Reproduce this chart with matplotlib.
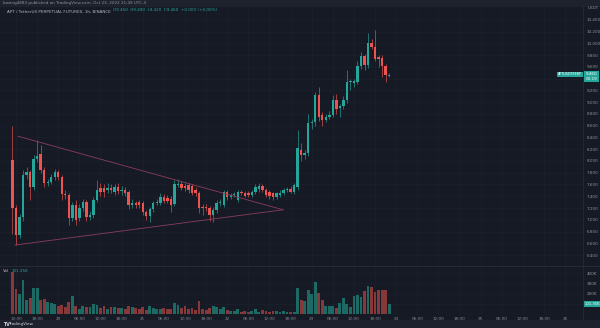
import matplotlib
matplotlib.use("Agg")
import matplotlib.pyplot as plt
import numpy as np

# ---------------- data: APT/USDT hourly candles ----------------
opens = [8.02, 7.20, 6.74, 7.05, 7.76, 7.81, 7.56, 8.03, 8.12, 7.85,
         7.63, 7.64, 7.73, 7.81, 7.73, 7.44, 7.42, 7.03, 7.25, 7.03,
         7.20, 7.30, 7.05, 7.08, 7.34, 7.54, 7.54, 7.51, 7.54, 7.47,
         7.56, 7.49, 7.51, 7.47, 7.25, 7.29, 7.30, 7.29, 7.13, 7.06,
         7.18, 7.29, 7.29, 7.39, 7.37, 7.35, 7.27, 7.59, 7.61, 7.57,
         7.59, 7.57, 7.51, 7.46, 7.22, 7.22, 7.20, 7.08, 7.17, 7.29,
         7.25, 7.47, 7.39, 7.42, 7.34, 7.47, 7.46, 7.45, 7.42, 7.47,
         7.52, 7.57, 7.51, 7.47, 7.45, 7.39, 7.42, 7.46, 7.51, 7.52,
         7.48, 7.56, 8.19, 8.10, 8.13, 8.64, 8.66, 9.12, 8.78, 8.70,
         8.75, 8.78, 9.04, 8.90, 8.93, 9.04, 9.34, 9.33, 9.34, 9.61,
         9.78, 9.63, 10.01, 9.94, 9.76, 9.75, 9.61, 9.45]
highs = [8.59, 7.25, 7.10, 7.85, 7.90, 7.85, 8.10, 8.36, 8.27, 7.90,
         7.70, 7.78, 7.86, 7.84, 7.76, 7.50, 7.45, 7.30, 7.33, 7.26,
         7.36, 7.34, 7.15, 7.38, 7.68, 7.62, 7.60, 7.62, 7.60, 7.60,
         7.62, 7.57, 7.56, 7.50, 7.35, 7.32, 7.34, 7.32, 7.16, 7.22,
         7.32, 7.36, 7.45, 7.44, 7.42, 7.40, 7.68, 7.70, 7.66, 7.62,
         7.63, 7.60, 7.56, 7.49, 7.27, 7.26, 7.24, 7.21, 7.33, 7.35,
         7.51, 7.51, 7.46, 7.48, 7.51, 7.50, 7.49, 7.49, 7.50, 7.60,
         7.62, 7.61, 7.54, 7.50, 7.48, 7.48, 7.50, 7.54, 7.56, 7.57,
         7.62, 8.53, 8.30, 8.18, 8.80, 8.72, 9.17, 9.26, 8.83, 8.80,
         8.85, 9.12, 9.14, 8.97, 9.10, 9.55, 9.40, 9.40, 9.70, 9.85,
         9.82, 10.18, 10.08, 10.23, 9.80, 9.80, 9.64, 9.49]
lows = [6.76, 6.57, 6.69, 6.98, 7.70, 7.34, 7.50, 7.98, 7.80, 7.55,
        7.58, 7.60, 7.68, 7.68, 7.34, 7.36, 6.91, 6.98, 6.91, 6.98,
        7.15, 6.98, 7.00, 7.03, 7.30, 7.40, 7.38, 7.45, 7.45, 7.42,
        7.44, 7.42, 7.40, 7.18, 7.20, 7.20, 7.20, 7.08, 7.00, 6.96,
        7.14, 7.25, 7.25, 7.28, 7.28, 7.14, 7.24, 7.55, 7.50, 7.49,
        7.46, 7.42, 7.40, 7.12, 7.08, 7.15, 6.98, 6.96, 7.12, 7.24,
        7.21, 7.34, 7.35, 7.38, 7.30, 7.42, 7.38, 7.39, 7.38, 7.43,
        7.48, 7.48, 7.39, 7.36, 7.34, 7.35, 7.38, 7.42, 7.47, 7.46,
        7.44, 7.50, 8.00, 8.03, 8.08, 8.55, 8.60, 8.68, 8.60, 8.66,
        8.72, 8.74, 8.80, 8.75, 8.88, 8.98, 9.21, 9.25, 9.30, 9.56,
        9.55, 9.58, 9.90, 9.70, 9.60, 9.43, 9.34, 9.42]
closes = [7.20, 6.74, 7.05, 7.76, 7.81, 7.56, 8.03, 8.08, 7.85, 7.63,
          7.64, 7.73, 7.81, 7.73, 7.44, 7.42, 7.03, 7.25, 7.00, 7.20,
          7.30, 7.05, 7.08, 7.34, 7.51, 7.47, 7.47, 7.54, 7.51, 7.56,
          7.49, 7.51, 7.46, 7.25, 7.29, 7.25, 7.25, 7.13, 7.06, 7.18,
          7.29, 7.30, 7.39, 7.32, 7.32, 7.25, 7.61, 7.61, 7.54, 7.54,
          7.51, 7.46, 7.46, 7.20, 7.20, 7.20, 7.08, 7.17, 7.29, 7.30,
          7.47, 7.39, 7.42, 7.44, 7.47, 7.46, 7.40, 7.42, 7.47, 7.56,
          7.57, 7.51, 7.42, 7.40, 7.39, 7.45, 7.46, 7.51, 7.52, 7.48,
          7.59, 8.22, 8.10, 8.13, 8.64, 8.66, 9.12, 8.75, 8.70, 8.75,
          8.78, 9.04, 8.88, 8.93, 9.04, 9.34, 9.36, 9.36, 9.61, 9.78,
          9.63, 10.01, 9.94, 9.73, 9.73, 9.61, 9.46, 9.46]
volumes_k = [410, 250, 200, 330, 140, 155, 260, 260, 140, 150,
             115, 110, 100, 80, 90, 70, 120, 175, 85, 55,
             80, 70, 70, 100, 90, 65, 80, 55, 70, 75,
             60, 65, 55, 85, 70, 60, 55, 75, 45, 80,
             60, 55, 50, 65, 55, 50, 110, 90, 60, 80,
             55, 60, 45, 130, 55, 40, 60, 85, 75, 50,
             70, 45, 35, 35, 55, 25, 30, 25, 30, 50,
             25, 40, 30, 25, 30, 30, 25, 30, 20, 25,
             20, 260, 140, 130, 240, 200, 310, 210, 140, 80,
             80, 80, 60, 110, 160, 100, 70, 180, 190, 170,
             230, 275, 265, 220, 240, 240, 240, 101.35]

price_ticks = [6.4, 6.6, 6.8, 7.0, 7.2, 7.4, 7.6, 7.8, 8.0, 8.2, 8.4,
               8.6, 8.8, 9.0, 9.2, 9.4, 9.6, 9.8, 10.0, 10.2, 10.4]
volume_ticks_k = [100, 200, 300, 400]
time_labels = ["12:00", "18:00", "20", "06:00", "12:00", "18:00", "21",
               "06:00", "12:00", "18:00", "22", "06:00", "12:00", "18:00",
               "23", "06:00", "12:00", "18:00", "24", "06:00", "12:00",
               "18:00", "25", "06:00", "12:00", "18:00", "26"]
first_label_bar = 1
bars_per_label = 6

# symmetrical triangle drawn on the chart: (bar index, price)
tri_upper = [(1.56, 8.42), (76.85, 7.17)]
tri_lower = [(0.71, 6.57), (76.85, 7.17)]

symbol = "APT / TetherUS PERPETUAL FUTURES, 1h, BINANCE"
published = "bwang4883 published on TradingView.com, Oct 23, 2022 21:49 UTC-4"

# ---------------- styling ----------------
W, H = 600, 328
BG = "#161a25"
STRIP = "#1e222d"
GRID = "#1d212e"
SEP = "#2a2e39"
TXT = "#8f929b"
UP = "#26a69a"
DOWN = "#ef5350"
VOL_UP = "#1d6963"
VOL_DOWN = "#873839"
TRI = "#8a3d5c"
FS = 3.0
plt.rcParams["font.family"] = ["DejaVu Sans"]


def rect(x0, y0, x1, y1):
    return [x0 / W, 1 - y1 / H, (x1 - x0) / W, (y1 - y0) / H]


fig = plt.figure(figsize=(W / 100, H / 100), dpi=100, facecolor=BG)

n = len(closes)
idx = np.arange(n)
o = np.array(opens)
c = np.array(closes)
hi = np.array(highs)
lo = np.array(lows)
vol = np.array(volumes_k)
rising = c >= o
last = n - 1

xlim = (-3.55, 162.07)
tick_pos = [first_label_bar + bars_per_label * m for m in range(len(time_labels))]

# ---------------- price pane ----------------
ax = fig.add_axes(rect(0, 6, 583, 265))
ax.set_facecolor(BG)
ax.set_xlim(*xlim)
ax.set_ylim(6.231, 10.634)
ax.set_yticks(price_ticks)
# the scale label under the last-price marker is covered, so leave it blank
ax.set_yticklabels(["" if abs(t - closes[last]) < 0.1 else f"{t:.3f}"
                    for t in price_ticks])
ax.yaxis.tick_right()
ax.tick_params(axis="y", length=0, pad=2.5, labelsize=FS, labelcolor=TXT)
ax.set_xticks(tick_pos)
ax.tick_params(axis="x", length=0, labelbottom=False)
ax.grid(True, color=GRID, linewidth=0.5)
for s in ax.spines.values():
    s.set_visible(False)
ax.set_axisbelow(True)

cols = np.where(rising, UP, DOWN)
ax.vlines(idx, lo, hi, colors=cols, linewidth=0.45, zorder=2)
body_h = np.maximum(np.abs(c - o), 0.008)
ax.bar(idx, body_h, bottom=np.minimum(o, c), width=0.68, color=cols,
       linewidth=0, zorder=3)

for line in (tri_upper, tri_lower):
    xs, ys = zip(*line)
    ax.plot(xs, ys, color=TRI, linewidth=0.6, zorder=4)

# legend line
chg = closes[last] - closes[last - 1]
pct = chg / closes[last - 1] * 100
leg_col = UP if chg >= 0 else DOWN
t1 = ax.text(0.012, 0.985, symbol + "  ", transform=ax.transAxes, fontsize=FS,
             color="#b2b5be", va="top", ha="left")
fig.canvas.draw()
bb = t1.get_window_extent()
fig.text(bb.x1 / W, 1 - 10.2 / H,
         f"O{opens[last]:.3f}  H{highs[last]:.3f}  L{lows[last]:.3f}  "
         f"C{closes[last]:.3f}  {chg:+.3f} ({pct:+.2f}%)",
         fontsize=FS, color=leg_col, va="center", ha="left")

# ---------------- volume pane ----------------
vx = fig.add_axes(rect(0, 266, 583, 315))
vx.set_facecolor(BG)
vx.set_xlim(*xlim)
vx.set_ylim(-6.8, 469)
vcols = np.where(rising, VOL_UP, VOL_DOWN)
vx.bar(idx, vol, width=0.8, color=vcols, linewidth=0, zorder=3)
vx.set_yticks(volume_ticks_k)
vx.set_yticklabels(["" if abs(v - volumes_k[last]) < 50 else f"{v}K"
                    for v in volume_ticks_k])
vx.yaxis.tick_right()
vx.tick_params(axis="y", length=0, pad=2.5, labelsize=FS, labelcolor=TXT)
vx.set_xticks(tick_pos)
vx.set_xticklabels(time_labels)
vx.tick_params(axis="x", length=0, pad=1.2, labelsize=FS, labelcolor=TXT)
vx.grid(True, color=GRID, linewidth=0.5)
vx.set_axisbelow(True)
for s in vx.spines.values():
    s.set_visible(False)
vx.text(0.005, 0.93, "Vol", transform=vx.transAxes, fontsize=FS,
        color="#b2b5be", va="top")
vx.text(0.02, 0.93, f"{volumes_k[last]:.2f}K", transform=vx.transAxes,
        fontsize=FS, color=UP, va="top")

# pane separators
fig.add_artist(plt.Line2D([0, 1], [1 - 265.6 / H] * 2, color=SEP, linewidth=0.6))
fig.add_artist(plt.Line2D([583 / W] * 2, [1 - 320 / H, 1 - 6 / H], color=SEP,
                          linewidth=0.5))

# top strip and bottom strip
fig.add_artist(plt.Rectangle((0, 1 - 6 / H), 1, 6 / H, color=STRIP,
                             transform=fig.transFigure))
fig.text(3 / W, 1 - 3 / H, published, fontsize=FS, color=TXT, va="center")
fig.add_artist(plt.Rectangle((0, 0), 1, 8 / H, color=STRIP,
                             transform=fig.transFigure))
fig.text(3 / W, 4 / H, "TV", fontsize=3.4, color="#d1d4dc", va="center",
         fontweight="bold")
fig.text(8.5 / W, 4 / H, "TradingView", fontsize=FS, color="#d1d4dc",
         va="center")

# currency unit on top of the price scale
fig.text(588 / W, 1 - 8.3 / H, "USDT", fontsize=FS, color=TXT, va="center")


def data_to_fig_y(axis, v):
    return axis.transData.transform((0, v))[1] / H


# last price marker
py = data_to_fig_y(ax, closes[last])
lc = UP if closes[last] >= opens[last] else DOWN
fig.text(582 / W, py + 0.002, "APTUSDTPERP", fontsize=2.4, color="white",
         va="center", ha="right",
         bbox=dict(boxstyle="square,pad=0.25", fc=lc, ec="none"))
fig.text(585.5 / W, py - 0.004, f"{closes[last]:.3f}\n00:19", fontsize=FS,
         color="white", va="center", linespacing=1.1,
         bbox=dict(boxstyle="square,pad=0.3", fc=lc, ec="none"))

# last volume marker
vy = data_to_fig_y(vx, volumes_k[last])
fig.text(584.5 / W, vy, f"{volumes_k[last]:.2f}K", fontsize=2.7, color="white",
         va="center", bbox=dict(boxstyle="square,pad=0.2", fc=lc, ec="none"))

fig.savefig("out.png", dpi=100, facecolor=BG)
